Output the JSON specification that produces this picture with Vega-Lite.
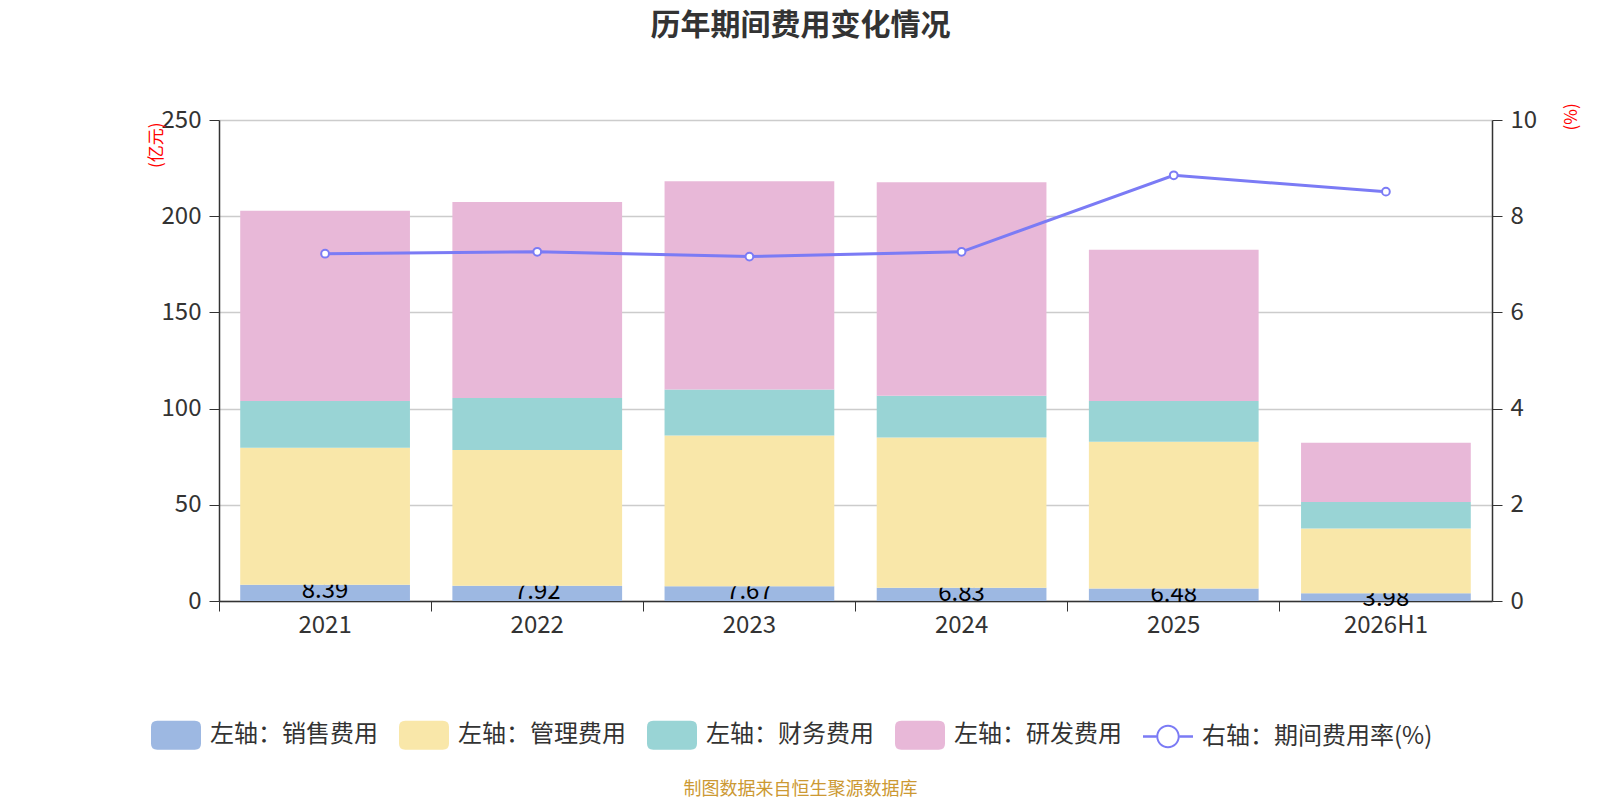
{
  "$schema": "https://vega.github.io/schema/vega-lite/v6.json",
  "autosize": {"type": "none"},
  "width": 1273,
  "height": 481,
  "padding": {"left": 219, "top": 120, "right": 108, "bottom": 199},
  "background": "white",
  "config": {
    "font": "Noto Sans CJK SC",
    "view": {"stroke": null}
  },
  "title": {
    "text": "历年期间费用变化情况",
    "fontSize": 30,
    "fontWeight": "bold",
    "color": "#333333",
    "anchor": "middle",
    "dx": -55,
    "offset": 62
  },
  "datasets": {
    "costs": [
      {"year": "2021", "type": "左轴：销售费用", "idx": 0, "value": 8.39},
      {"year": "2021", "type": "左轴：管理费用", "idx": 1, "value": 71.2},
      {"year": "2021", "type": "左轴：财务费用", "idx": 2, "value": 24.4},
      {"year": "2021", "type": "左轴：研发费用", "idx": 3, "value": 98.8},
      {"year": "2022", "type": "左轴：销售费用", "idx": 0, "value": 7.92},
      {"year": "2022", "type": "左轴：管理费用", "idx": 1, "value": 70.6},
      {"year": "2022", "type": "左轴：财务费用", "idx": 2, "value": 27.0},
      {"year": "2022", "type": "左轴：研发费用", "idx": 3, "value": 101.9},
      {"year": "2023", "type": "左轴：销售费用", "idx": 0, "value": 7.67},
      {"year": "2023", "type": "左轴：管理费用", "idx": 1, "value": 78.3},
      {"year": "2023", "type": "左轴：财务费用", "idx": 2, "value": 23.9},
      {"year": "2023", "type": "左轴：研发费用", "idx": 3, "value": 108.3},
      {"year": "2024", "type": "左轴：销售费用", "idx": 0, "value": 6.83},
      {"year": "2024", "type": "左轴：管理费用", "idx": 1, "value": 78.1},
      {"year": "2024", "type": "左轴：财务费用", "idx": 2, "value": 21.8},
      {"year": "2024", "type": "左轴：研发费用", "idx": 3, "value": 110.9},
      {"year": "2025", "type": "左轴：销售费用", "idx": 0, "value": 6.48},
      {"year": "2025", "type": "左轴：管理费用", "idx": 1, "value": 76.3},
      {"year": "2025", "type": "左轴：财务费用", "idx": 2, "value": 21.2},
      {"year": "2025", "type": "左轴：研发费用", "idx": 3, "value": 78.6},
      {"year": "2026H1", "type": "左轴：销售费用", "idx": 0, "value": 3.98},
      {"year": "2026H1", "type": "左轴：管理费用", "idx": 1, "value": 33.7},
      {"year": "2026H1", "type": "左轴：财务费用", "idx": 2, "value": 13.8},
      {"year": "2026H1", "type": "左轴：研发费用", "idx": 3, "value": 30.8}
    ],
    "rate": [
      {"year": "2021", "rate": 7.22},
      {"year": "2022", "rate": 7.26},
      {"year": "2023", "rate": 7.16},
      {"year": "2024", "rate": 7.26},
      {"year": "2025", "rate": 8.85},
      {"year": "2026H1", "rate": 8.51}
    ]
  },
  "layer": [
    {
      "data": {"name": "costs"},
      "layer": [
        {
          "transform": [{"filter": "datum.idx == 0"}],
          "mark": {"type": "bar", "width": {"band": 0.8}},
          "encoding": {
            "x": {
              "field": "year", "type": "nominal", "sort": null,
              "scale": {"paddingInner": 0, "paddingOuter": 0},
              "axis": {
                "title": "制图数据来自恒生聚源数据库",
                "titleFontSize": 18,
                "titleFontWeight": "normal",
                "titleColor": "#cc9933",
                "titleX": 581,
                "titleY": 188,
                "titleBaseline": "middle",
                "labelAngle": 0,
                "labelFontSize": 24,
                "labelColor": "#333333",
                "labelPadding": 2,
                "bandPosition": 0,
                "tickSize": 10,
                "tickColor": "#333333",
                "domainColor": "#333333",
                "domainWidth": 1.5
              }
            },
            "y": {
              "field": "value", "type": "quantitative",
              "title": "(亿元)",
              "scale": {"domain": [0, 250], "nice": false},
              "axis": {
                "titleColor": "red",
                "titleFontSize": 17,
                "titleFontWeight": "normal",
                "titleX": -63,
                "titleY": 2,
                "titleAngle": -90,
                "titleAlign": "right",
                "titleBaseline": "middle",
                "values": [0, 50, 100, 150, 200, 250],
                "labelFontSize": 24,
                "labelColor": "#333333",
                "labelPadding": 8,
                "tickSize": 10,
                "tickColor": "#333333",
                "domainColor": "#333333",
                "domainWidth": 1.5,
                "gridColor": "#cccccc",
                "gridWidth": 1.5
              }
            },
            "color": {
              "field": "type", "type": "nominal",
              "scale": {
                "domain": ["左轴：销售费用", "左轴：管理费用", "左轴：财务费用", "左轴：研发费用", "右轴：期间费用率(%)"],
                "range": ["#9db8e2", "#f9e7a9", "#99d4d5", "#e8b8d8", "#7b7bf5"]
              },
              "legend": {
                "title": null,
                "orient": "none",
                "direction": "horizontal",
                "legendX": -68,
                "legendY": 590,
                "labelFontSize": 24,
                "labelColor": "#333333",
                "labelOffset": 9,
                "labelLimit": 400,
                "columnPadding": 21,
                "symbolSize": 2500,
                "encode": {
                  "symbols": {
                    "update": {
                      "shape": {"signal": "datum.value === '右轴：期间费用率(%)' ? 'M-1,-0.05L-0.47,-0.05L-0.47,0.05L-1,0.05ZM0.47,-0.05L1,-0.05L1,0.05L0.47,0.05ZM-0.47,0A0.47,0.47 0 1,1 0.47,0A0.47,0.47 0 1,1 -0.47,0ZM-0.39,0A0.39,0.39 0 1,0 0.39,0A0.39,0.39 0 1,0 -0.39,0Z' : 'M-0.75,-0.58L0.75,-0.58Q1,-0.58 1,-0.33L1,0.33Q1,0.58 0.75,0.58L-0.75,0.58Q-1,0.58 -1,0.33L-1,-0.33Q-1,-0.58 -0.75,-0.58Z'"},
                      "fill": {"signal": "scale('color', datum.value)"},
                      "strokeWidth": {"value": 0},
                      "opacity": {"value": 1},
                      "fillOpacity": {"value": 1}
                    }
                  }
                }
              }
            }
          }
        },
        {
          "transform": [{"filter": "datum.idx == 0"}],
          "mark": {"type": "text", "baseline": "top", "dy": -6, "fontSize": 24, "color": "black"},
          "encoding": {
            "x": {"field": "year", "type": "nominal", "sort": null},
            "y": {"field": "value", "type": "quantitative", "title": "(亿元)", "scale": {"domain": [0, 250], "nice": false}},
            "text": {"field": "value", "type": "quantitative", "format": ".2f"}
          }
        },
        {
          "transform": [
            {"stack": "value", "groupby": ["year"], "sort": [{"field": "idx", "order": "ascending"}], "as": ["v0", "v1"]},
            {"filter": "datum.idx > 0"}
          ],
          "mark": {"type": "bar", "width": {"band": 0.8}},
          "encoding": {
            "x": {"field": "year", "type": "nominal", "sort": null},
            "y": {"field": "v1", "type": "quantitative", "title": "(亿元)", "scale": {"domain": [0, 250], "nice": false}},
            "y2": {"field": "v0"},
            "color": {"field": "type", "type": "nominal"}
          }
        }
      ]
    },
    {
      "data": {"name": "rate"},
      "mark": {
        "type": "line",
        "strokeWidth": 3,
        "point": {"filled": false, "fill": "white", "size": 60, "strokeWidth": 2}
      },
      "encoding": {
        "x": {"field": "year", "type": "nominal", "sort": null},
        "y": {
          "field": "rate", "type": "quantitative",
          "scale": {"domain": [0, 10], "nice": false},
          "axis": {
            "orient": "right",
            "title": "(%)",
            "titleColor": "red",
            "titleFontSize": 17,
            "titleFontWeight": "normal",
            "titleX": 79,
            "titleY": 10,
            "titleAngle": -90,
            "titleAlign": "left",
            "titleBaseline": "middle",
            "values": [0, 2, 4, 6, 8, 10],
            "grid": false,
            "labelFontSize": 24,
            "labelColor": "#333333",
            "labelPadding": 8,
            "tickSize": 10,
            "tickColor": "#333333",
            "domainColor": "#333333",
            "domainWidth": 1.5
          }
        },
        "color": {"datum": "右轴：期间费用率(%)"}
      }
    }
  ],
  "resolve": {"scale": {"y": "independent"}}
}
